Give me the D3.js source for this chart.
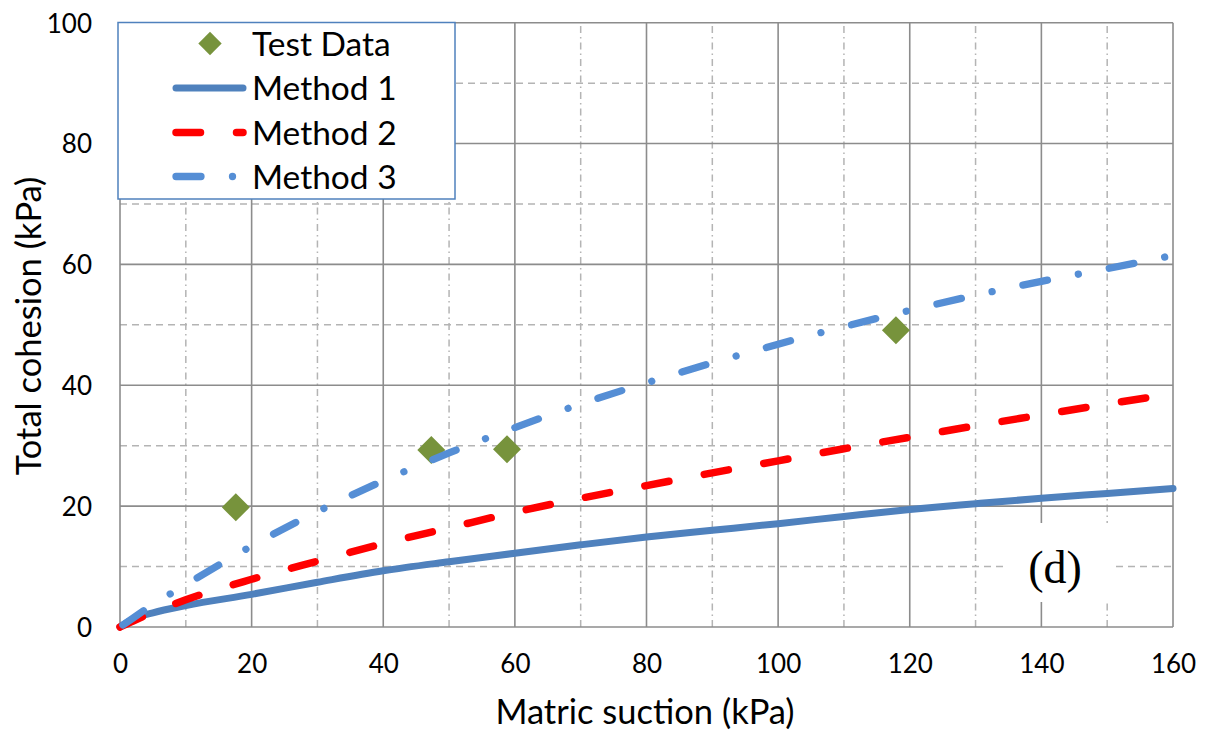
<!DOCTYPE html>
<html>
<head>
<meta charset="utf-8">
<script src="https://cdn.jsdelivr.net/npm/d3@7"></script>
<style>
  html, body { margin: 0; padding: 0; background: #ffffff; }
  svg { display: block; }
  text { font-family: Lato, "Open Sans", "Liberation Sans", sans-serif; fill: #000; }
</style>
</head>
<body>
<svg id="chart" width="1210" height="735"></svg>
<script>
// Matric suction (kPa) sample points shared by the three methods
const suction = [0, 2, 5, 10, 20, 30, 40, 50, 60, 70, 80, 90, 100, 110, 120, 130, 140, 150, 160];
// Total cohesion (kPa) predicted by each method
const method1 = [0, 1.35, 2.35, 3.55, 5.4, 7.4, 9.3, 10.8, 12.2, 13.6, 14.9, 16.0, 17.1, 18.3, 19.45, 20.4, 21.3, 22.1, 22.9];
const method2 = [0, 1.0, 2.4, 4.5, 7.9, 10.9, 13.8, 16.4, 19.0, 21.3, 23.4, 25.5, 27.5, 29.5, 31.4, 33.3, 35.1, 36.9, 38.6];
const method3 = [0, 1.5, 3.7, 7.0, 13.4, 19.1, 24.2, 28.8, 33.0, 36.9, 40.4, 43.7, 46.8, 49.7, 52.4, 54.9, 57.2, 59.3, 61.5];
// Measured test data
const testSuction = [17.6, 47.3, 58.8, 117.9];
const testCohesion = [19.8, 29.3, 29.4, 49.1];
// Axis ticks and labels
const xTicks = [0, 20, 40, 60, 80, 100, 120, 140, 160];
const yTicks = [0, 20, 40, 60, 80, 100];
const xMinor = [10, 30, 50, 70, 90, 110, 130, 150];
const yMinor = [10, 30, 50, 70, 90];
const seriesNames = ["Test Data", "Method 1", "Method 2", "Method 3"];
const xTitle = "Matric suction (kPa)";
const yTitle = "Total cohesion (kPa)";
const panelTag = "(d)";

const svg = d3.select("#chart");
const plotL = 120, plotR = 1173, plotT = 22.7, plotB = 627;

const x = d3.scaleLinear().domain([0, 160]).range([plotL, plotR]);
const y = d3.scaleLinear().domain([0, 100]).range([plotB, plotT]);

const C = {
  grid: "#8c8c8c",
  minor: "#b4b4b4",
  m1: "#4f81bd",
  m2: "#ff0000",
  m3: "#558ed5",
  test: "#77933c",
  legendBorder: "#4f81bd"
};

// Minor gridlines
const g = svg.append("g");
g.selectAll("line.vmin").data(xMinor).join("line")
  .attr("x1", d => x(d)).attr("x2", d => x(d))
  .attr("y1", y(0)).attr("y2", y(100))
  .attr("stroke", C.minor).attr("stroke-width", 1.5)
  .attr("stroke-dasharray", "7,4,1.5,4");
g.selectAll("line.hmin").data(yMinor).join("line")
  .attr("x1", x(0)).attr("x2", x(160))
  .attr("y1", d => y(d)).attr("y2", d => y(d))
  .attr("stroke", C.minor).attr("stroke-width", 1.5)
  .attr("stroke-dasharray", "7,5");

// Major gridlines (include plot frame)
g.selectAll("line.vmaj").data(xTicks).join("line")
  .attr("x1", d => x(d)).attr("x2", d => x(d))
  .attr("y1", y(0)).attr("y2", y(100))
  .attr("stroke", C.grid).attr("stroke-width", 1.6);
g.selectAll("line.hmaj").data(yTicks).join("line")
  .attr("x1", x(0)).attr("x2", x(160))
  .attr("y1", d => y(d)).attr("y2", d => y(d))
  .attr("stroke", C.grid).attr("stroke-width", 1.6);

// Axis tick labels
const xAxis = d3.axisBottom(x).tickValues(xTicks).tickSize(0).tickPadding(0);
const xg = svg.append("g").attr("transform", `translate(0,${plotB})`).call(xAxis);
xg.select(".domain").remove();
xg.selectAll("text").attr("font-size", 26).attr("dy", null).attr("y", 46)
  .style("font-family", "Lato, 'Open Sans', sans-serif").attr("fill", "#000");

const yAxis = d3.axisLeft(y).tickValues(yTicks).tickSize(0).tickPadding(0);
const yg = svg.append("g").attr("transform", `translate(${plotL},0)`).call(yAxis);
yg.select(".domain").remove();
yg.selectAll("text").attr("font-size", 26).attr("x", -28).attr("dy", "0.36em")
  .style("font-family", "Lato, 'Open Sans', sans-serif").attr("fill", "#000");

// Axis titles
svg.append("text").attr("x", 645).attr("y", 724)
  .attr("text-anchor", "middle").attr("font-size", 34.5).text(xTitle);
svg.append("text").attr("transform", `translate(41,326) rotate(-90)`)
  .attr("text-anchor", "middle").attr("font-size", 34.5).text(yTitle);

// Panel tag on a white patch
svg.append("rect").attr("x", 1008).attr("y", 523).attr("width", 105).attr("height", 79).attr("fill", "#fff");
svg.append("text").attr("x", 1055).attr("y", 583).attr("text-anchor", "middle")
  .style("font-family", "'Liberation Serif', 'Times New Roman', serif")
  .attr("font-size", 46).text(panelTag);

// Test data diamonds
const diamond = size => d3.symbol(d3.symbolSquare, size)();
const testPts = testSuction.map((s, i) => [s, testCohesion[i]]);
svg.append("g").selectAll("path").data(testPts).join("path")
  .attr("d", diamond(392))
  .attr("transform", d => `translate(${x(d[0])},${y(d[1])}) rotate(45)`)
  .attr("fill", C.test);

// Method curves
const line = d3.line().x(d => x(d[0])).y(d => y(d[1])).curve(d3.curveMonotoneX);
const series = [
  { vals: method1, color: C.m1, width: 7, dash: null, offset: 0 },
  { vals: method2, color: C.m2, width: 7.5, dash: "24.5,36", offset: 0 },
  { vals: method3, color: C.m3, width: 7.3, dash: "25,31.5,0.01,31.5", offset: -3.5 }
];
series.forEach(s => {
  svg.append("path")
    .datum(suction.map((v, i) => [v, s.vals[i]]))
    .attr("d", line)
    .attr("fill", "none")
    .attr("stroke", s.color)
    .attr("stroke-width", s.width)
    .attr("stroke-linecap", "round")
    .attr("stroke-linejoin", "round")
    .attr("stroke-dasharray", s.dash)
    .attr("stroke-dashoffset", s.offset);
});

// Legend
const lg = svg.append("g");
lg.append("rect").attr("x", 118).attr("y", 22.5).attr("width", 337).attr("height", 176.5)
  .attr("fill", "#fff").attr("stroke", C.legendBorder).attr("stroke-width", 1.5);
const rowY = [43.5, 88, 132.5, 176.5];
lg.append("path").attr("d", diamond(272))
  .attr("transform", `translate(210,${rowY[0]}) rotate(45)`).attr("fill", C.test);
series.forEach((s, i) => {
  lg.append("line").attr("x1", 176).attr("x2", 243)
    .attr("y1", rowY[i + 1]).attr("y2", rowY[i + 1])
    .attr("stroke", s.color).attr("stroke-width", s.width)
    .attr("stroke-linecap", "round").attr("stroke-dasharray", s.dash);
});
seriesNames.forEach((n, i) => {
  lg.append("text").attr("x", 252).attr("y", rowY[i]).attr("dy", "0.36em")
    .attr("font-size", 33.5).text(n);
});
</script>
</body>
</html>
